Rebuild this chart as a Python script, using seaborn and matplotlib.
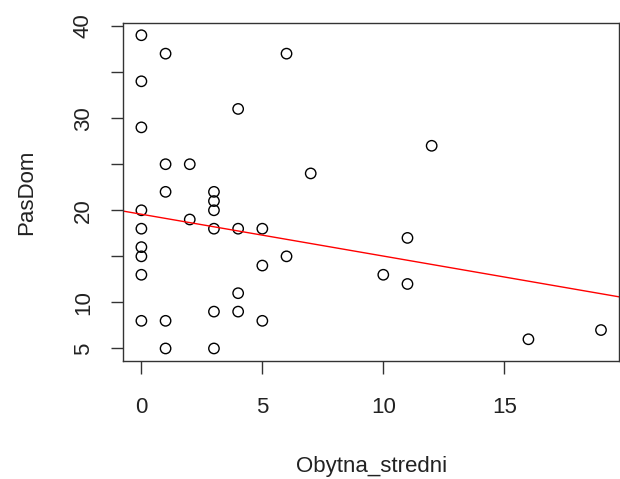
import matplotlib
matplotlib.use("Agg")
import matplotlib.pyplot as plt
import seaborn as sns
import pandas as pd
import numpy as np

obytna_stredni = [0, 0, 0, 0, 0, 0, 0, 0, 0,
                  1, 1, 1, 1, 1,
                  2, 2,
                  3, 3, 3, 3, 3, 3,
                  4, 4, 4, 4,
                  5, 5, 5,
                  6, 6,
                  7,
                  10,
                  11, 11,
                  12,
                  16,
                  19]
pas_dom = [39, 34, 29, 20, 18, 16, 15, 13, 8,
           37, 25, 22, 8, 5,
           25, 19,
           22, 21, 20, 18, 9, 5,
           31, 18, 11, 9,
           18, 14, 8,
           37, 15,
           24,
           13,
           17, 12,
           27,
           6,
           7]
# regression line (abline) coefficients
fit_intercept = 19.57
fit_slope = -0.454

x_ticks = [0, 5, 10, 15]
y_ticks = [5, 10, 15, 20, 25, 30, 35, 40]
y_tick_labels = ["5", "10", "", "20", "", "30", "", "40"]

df = pd.DataFrame({"Obytna_stredni": obytna_stredni, "PasDom": pas_dom})

sns.set_style("white")
plt.rcParams['font.family'] = ['Liberation Sans', 'DejaVu Sans']

fig = plt.figure(figsize=(6.2, 4.79), dpi=100)
ax = fig.add_axes([123/620, 1 - 361/479, (620 - 123)/620 - 0.001, (361 - 22.7)/479])

xmin, xmax = min(obytna_stredni), max(obytna_stredni)
ymin, ymax = min(pas_dom), max(pas_dom)
dx = (xmax - xmin) * 0.04
dy = (ymax - ymin) * 0.04

sns.scatterplot(data=df, x="Obytna_stredni", y="PasDom", ax=ax, s=56,
                facecolor="none", edgecolor="black", linewidth=1.0)
ax.axline((0, fit_intercept), slope=fit_slope, color="red", linewidth=1.0)

ax.set_xlim(xmin - dx, xmax + dx)
ax.set_ylim(ymin - dy, ymax + dy)

ax.set_xticks(x_ticks)
ax.set_yticks(y_ticks)
ax.set_yticklabels(y_tick_labels, rotation=90, va="center")
ax.tick_params(axis="both", which="both", direction="out", length=9, width=1.0,
               color="#333333", labelsize=16, labelcolor="#222222",
               bottom=True, left=True)
ax.tick_params(axis="x", pad=17)
ax.tick_params(axis="y", pad=12)

for sp in ax.spines.values():
    sp.set_visible(True)
    sp.set_color("#333333")
    sp.set_linewidth(1.0)

ax.set_xlabel("Obytna_stredni", fontsize=16, color="#222222", labelpad=27)
ax.set_ylabel("PasDom", fontsize=16, color="#222222", labelpad=26)

fig.savefig("out.png", dpi=100)
